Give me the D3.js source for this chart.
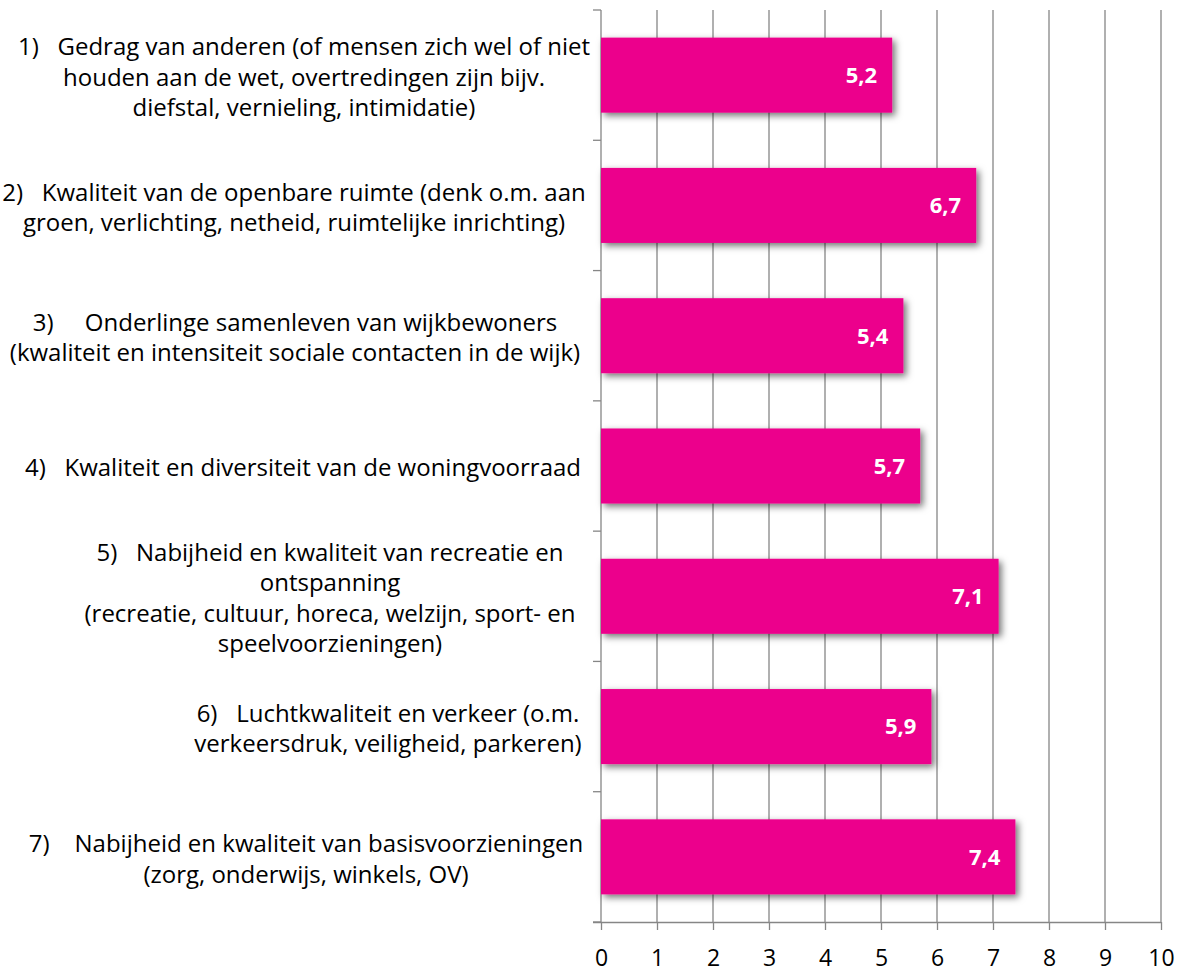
<!DOCTYPE html>
<html>
<head>
<meta charset="utf-8">
<script src="https://cdn.jsdelivr.net/npm/d3@7"></script>
<style>
  html, body { margin: 0; padding: 0; background: #fff; }
  svg { display: block; }
  text { font-family: "Open Sans", Carlito, Calibri, sans-serif; }
</style>
</head>
<body>
<svg id="chart" width="1180" height="976"></svg>
<script>
// ---- data ----
const categories = [
  ["1)   Gedrag van anderen (of mensen zich wel of niet", "houden aan de wet, overtredingen zijn bijv.", "diefstal, vernieling, intimidatie)"],
  ["2)   Kwaliteit van de openbare ruimte (denk o.m. aan", "groen, verlichting, netheid, ruimtelijke inrichting)"],
  ["3)     Onderlinge samenleven van wijkbewoners", "(kwaliteit en intensiteit sociale contacten in de wijk)"],
  ["4)   Kwaliteit en diversiteit van de woningvoorraad"],
  ["5)   Nabijheid en kwaliteit van recreatie en", "ontspanning", "(recreatie, cultuur, horeca, welzijn, sport- en", "speelvoorzieningen)"],
  ["6)   Luchtkwaliteit en verkeer (o.m.", "verkeersdruk, veiligheid, parkeren)"],
  ["7)    Nabijheid en kwaliteit van basisvoorzieningen", "(zorg, onderwijs, winkels, OV)"]
];
const values = [5.2, 6.7, 5.4, 5.7, 7.1, 5.9, 7.4];
const valueLabels = ["5,2", "6,7", "5,4", "5,7", "7,1", "5,9", "7,4"];
const xTicks = [0, 1, 2, 3, 4, 5, 6, 7, 8, 9, 10];

(function () {
// ---- layout ----
const svg = d3.select("#chart");
const pLeft = 601, pRight = 1161, pTop = 10, pBottom = 922;
const barColor = "#EC008C";
const gridColor = "#868686";
const labelFont = 24;
const tickFont = 23;
const valueFont = 22;
const lineH = 30.5;
const FONT = "'Open Sans', Carlito, Calibri, sans-serif";
// horizontal centre (px) of each wrapped label block, as placed in the original
const labelCenters = [304, 294, 295, 303, 330, 388, 306];

const x = d3.scaleLinear().domain([0, 10]).range([pLeft, pRight]);
const idx = d3.range(categories.length);
const y = d3.scaleBand().domain(idx).range([pTop, pBottom]).paddingInner(0.424).paddingOuter(0.212);

// shadow filter
const defs = svg.append("defs");
const f = defs.append("filter").attr("id", "shadow").attr("x", "-10%").attr("y", "-30%").attr("width", "130%").attr("height", "160%");
f.append("feDropShadow").attr("dx", 3).attr("dy", 3).attr("stdDeviation", 3.5)
  .attr("flood-color", "#000").attr("flood-opacity", 0.55);

// gridlines
svg.append("g").selectAll("line").data(xTicks.filter(d => d > 0)).join("line")
  .attr("x1", d => x(d)).attr("x2", d => x(d))
  .attr("y1", pTop).attr("y2", pBottom)
  .attr("stroke", gridColor).attr("stroke-width", 1.3);

// x axis
const xAxis = d3.axisBottom(x).tickValues(xTicks).tickSize(8).tickPadding(20).tickFormat(d3.format("d"));
const gx = svg.append("g").attr("transform", `translate(0,${pBottom})`).call(xAxis);
gx.select(".domain").attr("stroke", gridColor).attr("stroke-width", 1.3).attr("d", `M${pLeft - 8},0.5H${pRight}`);
gx.selectAll(".tick line").attr("stroke", gridColor).attr("stroke-width", 1.3);
gx.selectAll(".tick text").attr("font-size", tickFont).attr("fill", "#000").style("font-family", FONT);

// y axis line with category boundary ticks
const bounds = d3.range(categories.length + 1).map(i => pTop + i * y.step());
svg.append("line").attr("x1", pLeft).attr("x2", pLeft).attr("y1", pTop).attr("y2", pBottom)
  .attr("stroke", gridColor).attr("stroke-width", 1.3);
svg.append("g").selectAll("line").data(bounds).join("line")
  .attr("x1", pLeft - 8).attr("x2", pLeft).attr("y1", d => d).attr("y2", d => d)
  .attr("stroke", gridColor).attr("stroke-width", 1.3);

// bars
svg.append("g").selectAll("rect").data(values).join("rect")
  .attr("x", x(0)).attr("y", (d, i) => y(i))
  .attr("width", d => x(d) - x(0)).attr("height", y.bandwidth())
  .attr("fill", barColor).attr("filter", "url(#shadow)");

// value labels
svg.append("g").selectAll("text").data(values).join("text")
  .attr("x", d => x(d) - 15).attr("y", (d, i) => y(i) + y.bandwidth() / 2)
  .attr("dy", "0.36em").attr("text-anchor", "end")
  .attr("font-size", valueFont).attr("font-weight", "bold").attr("fill", "#fff")
  .text((d, i) => valueLabels[i]);

// category labels (each wrapped line centred on the block centre)
const gl = svg.append("g");
categories.forEach((lines, i) => {
  const cy = y(i) + y.bandwidth() / 2 + 2;
  const t = gl.append("text").attr("font-size", labelFont).attr("fill", "#000")
    .attr("text-anchor", "middle").attr("xml:space", "preserve").style("white-space", "pre");
  lines.forEach((ln, j) => t.append("tspan")
    .attr("x", labelCenters[i])
    .attr("y", cy + (j - (lines.length - 1) / 2) * lineH)
    .attr("dy", "0.35em")
    .text(ln));
});
})();
</script>
</body>
</html>
